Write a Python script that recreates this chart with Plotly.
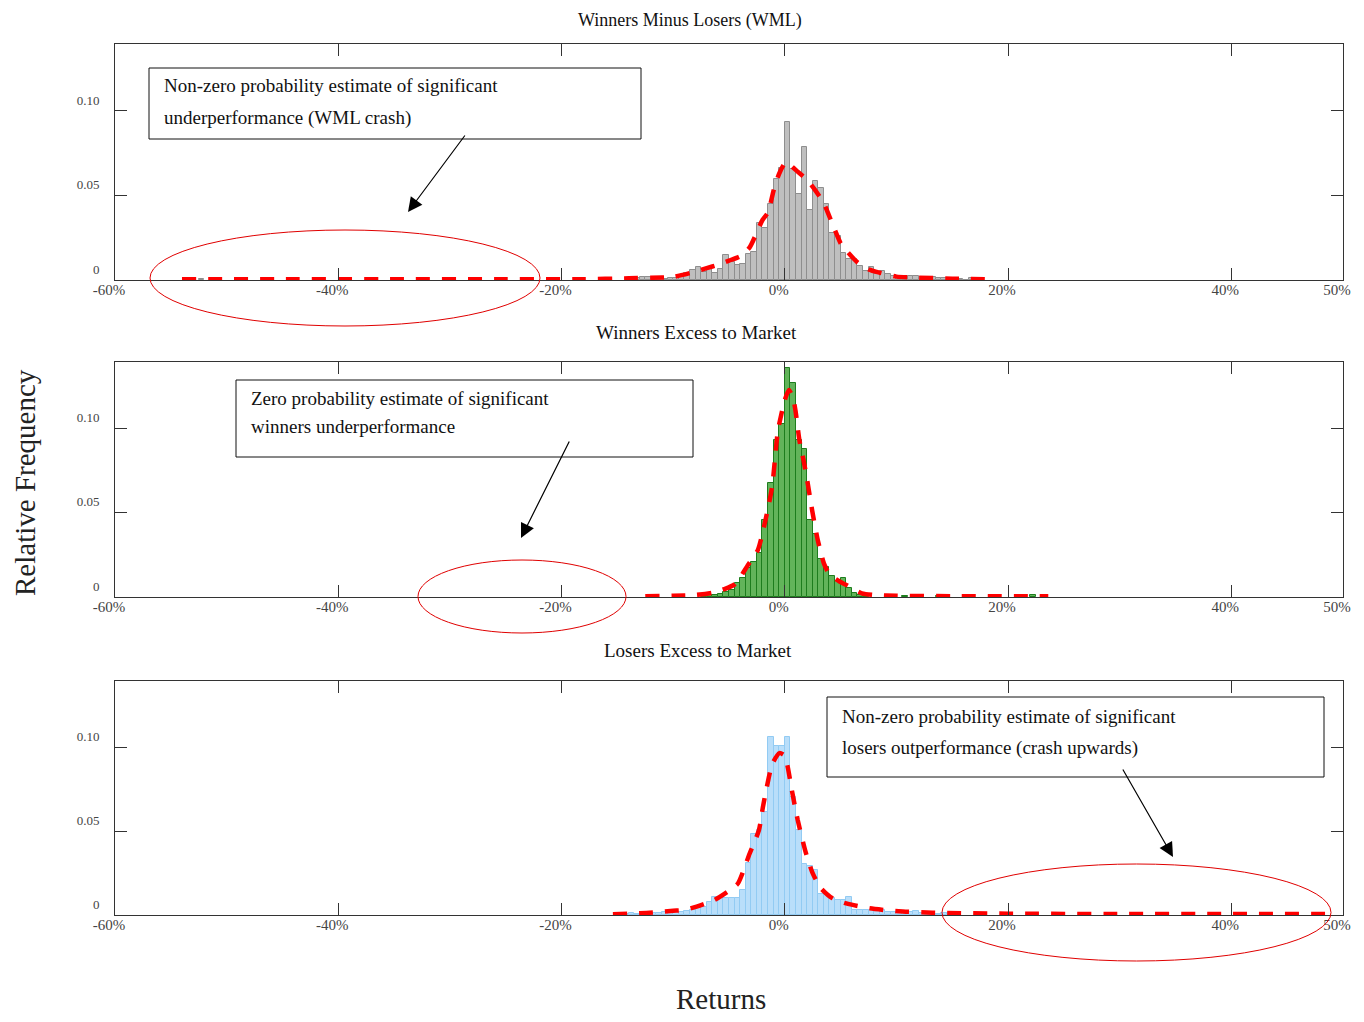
import plotly.graph_objects as go

# ---------------- data (relative frequency per 0.5% return bin) ----------------
BIN = 0.5  # bin width, in percent

# Winners Minus Losers (WML)
wml_start = -14.0
wml_freq = [0.0005, 0.001, 0.0018, 0.0018, 0.001, 0.001, 0.0008, 0.0012, 0.001, 0.0028,
            0.0043, 0.0059, 0.0079, 0.0049, 0.0079, 0.0043, 0.0063, 0.0148, 0.0107, 0.0087,
            0.0097, 0.0154, 0.0164, 0.0335, 0.0306, 0.0448, 0.060, 0.0665,
            0.0937, 0.0657, 0.0507, 0.0789, 0.0412, 0.0586, 0.0542, 0.0448, 0.028, 0.026,
            0.0158, 0.0122, 0.0122, 0.0085, 0.0055, 0.0079, 0.0036, 0.0051, 0.0036, 0.0026,
            0.001, 0.0, 0.0026, 0.0024, 0.0016, 0.002, 0.0016, 0.001, 0.001, 0.001, 0.001,
            0.0004, 0.0, 0.001]
wml_out_x = [-52.25, -18.25]
wml_out_y = [0.0006, 0.0008]
wml_kde_x = [-54, -45, -35, -25, -18, -14, -12, -10, -8, -7, -6, -5, -4, -3.15, -2, -1.5, -1,
             -0.5, 0, 0.3, 0.5, 1, 2, 2.7, 3.5, 4, 5, 5.45, 6.5, 7.5, 8.5, 10, 12, 15, 18.7]
wml_kde_y = [0.0004, 0.0004, 0.0004, 0.0004, 0.0005, 0.001, 0.0013, 0.0018, 0.005, 0.007, 0.009,
             0.0115, 0.0140, 0.0193, 0.0355, 0.0400, 0.053, 0.063, 0.069, 0.0695, 0.068, 0.065,
             0.0592, 0.0533, 0.0454, 0.0375, 0.0217, 0.0178, 0.0105, 0.0063, 0.0043, 0.002,
             0.0014, 0.0008, 0.0004]

# Winners Excess to Market
win_start = -7.5
win_freq = [0.0005, 0.001, 0.001, 0.0016, 0.0032, 0.0042, 0.0085, 0.0115, 0.0175, 0.0205,
            0.026, 0.0458, 0.0677, 0.0935, 0.103,
            0.136, 0.127, 0.0935, 0.088, 0.046, 0.0375, 0.0224, 0.018, 0.0125, 0.0097,
            0.011, 0.0055, 0.0025, 0.0012, 0.0006]
win_out_x = [10.75, 13.75, 22.25]
win_out_y = [0.0008, 0.0006, 0.001]
win_kde_x = [-12.5, -10, -8, -6.5, -5.3, -4.5, -4.05, -3.3, -2.41, -1.73, -1.13, -0.92, -0.63,
             -0.33, 0, 0.36, 0.71, 0.95, 1.31, 1.67, 2, 2.44, 2.95, 3.5, 4, 4.9, 5.5, 6.9, 8,
             10, 15, 23.6]
win_kde_y = [0.0005, 0.0008, 0.0012, 0.0025, 0.005, 0.0075, 0.0111, 0.019, 0.028, 0.0458,
             0.0657, 0.0794, 0.0984, 0.108, 0.117, 0.123, 0.119, 0.111, 0.093, 0.0815, 0.0696,
             0.0518, 0.0339, 0.020, 0.0135, 0.0092, 0.0072, 0.0022, 0.0012, 0.0007, 0.0005,
             0.0004]

# Losers Excess to Market
los_start = -15.0
los_freq = [0.0005, 0.0005, 0.001, 0.0005, 0.0005, 0.0008, 0.001, 0.001, 0.002, 0.002,
            0.002, 0.002, 0.0025, 0.003, 0.0046, 0.0046, 0.0075, 0.0109, 0.0109, 0.0099,
            0.0099, 0.0099, 0.015, 0.031, 0.0486, 0.0506, 0.0615, 0.106, 0.101, 0.101,
            0.106, 0.0704, 0.0506, 0.0302, 0.0292, 0.027, 0.0125, 0.0125, 0.0099, 0.009,
            0.009, 0.0105, 0.003, 0.003, 0.003, 0.003, 0.003, 0.003, 0.002, 0.002,
            0.0015, 0.0015, 0.0015, 0.0024, 0.001, 0.0008, 0.0005, 0.0005, 0.001, 0.001]
los_out_x = []
los_out_y = []
los_kde_x = [-15.4, -13, -11.8, -10, -9, -7.9, -6.3, -5, -4.2, -3.15, -2.32, -1.96, -1.67,
             -1.13, -0.48, 0, 0.27, 0.63, 1.16, 1.9, 2.5, 3.24, 4.29, 5.5, 7.6, 10.2, 13.2,
             20, 30, 40, 48.7]
los_kde_y = [0.0004, 0.001, 0.0015, 0.0025, 0.003, 0.005, 0.009, 0.0145, 0.0188, 0.0367,
             0.0506, 0.0645, 0.0744, 0.090, 0.0966, 0.095, 0.088, 0.0744, 0.0565, 0.0367,
             0.0248, 0.0159, 0.0099, 0.0069, 0.004, 0.0022, 0.0014, 0.0008, 0.0006, 0.0006,
             0.0006]

titles = ["Winners Minus Losers (WML)", "Winners Excess to Market", "Losers Excess to Market"]
notes = [["Non-zero probability estimate of significant", "underperformance (WML crash)"],
         ["Zero probability estimate of significant", "winners underperformance"],
         ["Non-zero probability estimate of significant", "losers outperformance (crash upwards)"]]
xtick_vals = [-60, -40, -20, 0, 20, 40, 50]
xtick_text = ["-60%", "-40%", "-20%", "0%", "20%", "40%", "50%"]
ytick_vals = [0, 0.05, 0.10]
ytick_text = ["0", "0.05", "0.10"]

# ---------------- styling ----------------
PAGE_OFF = 8                      # default body margin of the html page
PL, PR, PT, PB = 115, 1343, 44, 915   # plot area in page pixels
W, H = 1348, 1006
ML, MT = PL - PAGE_OFF, PT - PAGE_OFF
MR = W - (PR - PAGE_OFF)
MB = H - (PB - PAGE_OFF)
PW, PH = PR - PL, PB - PT
FONT = "Liberation Serif"


def fx(px):
    return (px - PL) / PW


def fy(py):
    return (PB - py) / PH


panel_px = [(44, 280), (362, 597), (681, 915)]
fills = ["#bfbfbf", "#62b45a", "#b9defa"]
edges = ["#8e8e8e", "#1d7d1d", "#92cbf3"]

series = [
    (wml_start, wml_freq, wml_out_x, wml_out_y, wml_kde_x, wml_kde_y),
    (win_start, win_freq, win_out_x, win_out_y, win_kde_x, win_kde_y),
    (los_start, los_freq, los_out_x, los_out_y, los_kde_x, los_kde_y),
]

fig = go.Figure()
layout = {}
for i, (start, freq, ox, oy, kx, ky) in enumerate(series):
    sfx = "" if i == 0 else str(i + 1)
    centers = [start + BIN * (n + 0.5) for n in range(len(freq))]
    fig.add_trace(go.Bar(x=centers + ox, y=freq + oy, width=BIN,
                         marker=dict(color=fills[i], line=dict(color=edges[i], width=1)),
                         xaxis="x" + sfx, yaxis="y" + sfx, showlegend=False))
    fig.add_trace(go.Scatter(x=kx, y=ky, mode="lines",
                             line=dict(color="#ff0000", width=4.5, dash="14px,12px",
                                       shape="spline", smoothing=0.6),
                             xaxis="x" + sfx, yaxis="y" + sfx, showlegend=False))
    top, bot = panel_px[i]
    layout["xaxis" + sfx] = dict(
        domain=[0, 1], anchor="y" + sfx, range=[-60, 50],
        tickvals=xtick_vals, ticktext=xtick_text, ticks="inside", ticklen=12,
        tickcolor="#333", tickwidth=1, showline=True, linecolor="#333", linewidth=1,
        mirror="ticks", showgrid=False, zeroline=False, ticklabelshift=-6,
        ticklabelstandoff=-4,
        tickfont=dict(family=FONT, size=15, color="#444"))
    layout["yaxis" + sfx] = dict(
        domain=[fy(bot), fy(top)], anchor="x" + sfx, range=[0, 0.1396],
        tickvals=ytick_vals, ticktext=ytick_text, ticks="inside", ticklen=12,
        tickcolor="#333", tickwidth=1, showline=True, linecolor="#333", linewidth=1,
        mirror="ticks", showgrid=False, zeroline=False, ticklabelshift=-11,
        ticklabelstandoff=12,
        tickfont=dict(family=FONT, size=13, color="#444"))

annotations = []
shapes = []
title_pos = [(690, 20), (696, 332), (698, 650)]
title_size = [18, 19, 19]
for t, (x, y), sz in zip(titles, title_pos, title_size):
    annotations.append(dict(text=t, x=fx(x), y=fy(y), xref="paper", yref="paper",
                            xanchor="center", yanchor="middle", borderpad=0,
                            showarrow=False, font=dict(family=FONT, size=sz, color="#111")))

boxes = [(149, 68, 641, 139), (236, 380, 693, 457), (827, 697, 1324, 777)]
text_rows = [(162, 86, 118), (249, 398, 426), (840, 716, 748)]
for (x0, y0, x1, y1), (tx, ty1, ty2), lines in zip(boxes, text_rows, notes):
    shapes.append(dict(type="rect", xref="paper", yref="paper", x0=fx(x0), x1=fx(x1),
                       y0=fy(y1), y1=fy(y0), line=dict(color="#111", width=1),
                       fillcolor="white", layer="above"))
    for line, ty in zip(lines, (ty1, ty2)):
        annotations.append(dict(text=line, x=fx(tx), y=fy(ty), xref="paper", yref="paper",
                                xanchor="left", yanchor="middle", showarrow=False,
                                font=dict(family=FONT, size=19, color="#111")))

arrows = [((466, 134), (408, 212)), ((570, 440), (521, 538)), ((1122, 768), (1173, 857))]
for (tx, ty), (hx, hy) in arrows:
    annotations.append(dict(text="", x=fx(hx), y=fy(hy), xref="paper", yref="paper",
                            ax=tx - hx, ay=ty - hy, showarrow=True, arrowhead=2,
                            arrowsize=2.4, arrowwidth=1.2, arrowcolor="#000"))

ellipses = [(150, 230, 540, 326), (418, 560, 626, 633), (942, 864, 1331, 961)]
for x0, y0, x1, y1 in ellipses:
    shapes.append(dict(type="circle", xref="paper", yref="paper", x0=fx(x0), x1=fx(x1),
                       y0=fy(y1), y1=fy(y0), line=dict(color="#e00000", width=1),
                       layer="above"))

annotations.append(dict(text="Relative Frequency", x=fx(25), y=fy(483), xref="paper",
                        yref="paper", showarrow=False, textangle=-90,
                        xanchor="center", yanchor="middle",
                        font=dict(family=FONT, size=29, color="#222")))
annotations.append(dict(text="Returns", x=fx(721), y=fy(999), xref="paper",
                        yref="paper", showarrow=False, xanchor="center", yanchor="middle",
                        font=dict(family=FONT, size=29, color="#222")))

fig.update_layout(
    width=W, height=H, margin=dict(l=ML, r=MR, t=MT, b=MB, autoexpand=False),
    paper_bgcolor="white", plot_bgcolor="white", bargap=0, barmode="overlay",
    showlegend=False, annotations=annotations, shapes=shapes, **layout)

fig.write_html("out.html")
